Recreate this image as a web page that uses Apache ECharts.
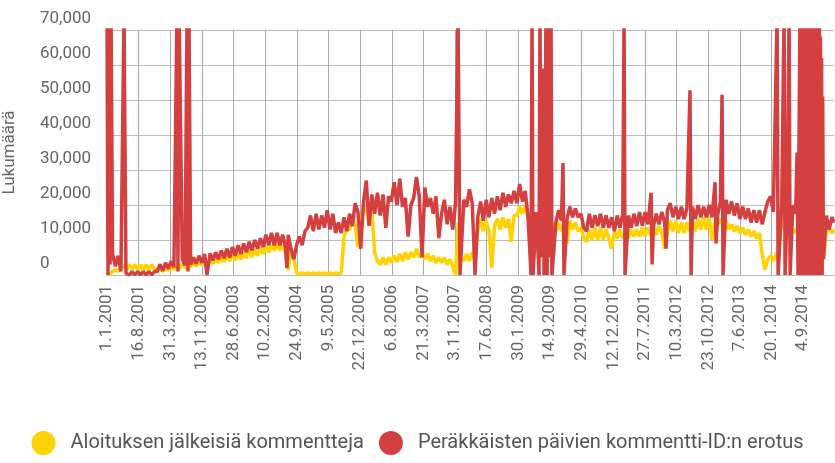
<!DOCTYPE html>
<html>
<head>
<meta charset="utf-8">
<script src="https://cdn.jsdelivr.net/npm/echarts@6/dist/echarts.min.js"></script>
<style>
  html, body { margin: 0; padding: 0; background: #fff; }
  #chart { width: 835px; height: 463px; }
</style>
</head>
<body>
<div id="chart"></div>
<script>
// päivittäinen kategoria-akseli 1.1.2001 alkaen
var dayCount = 5216;
var categories = [];
for (var i = 0; i < dayCount; i++) {
  var d = new Date(Date.UTC(2001, 0, 1 + i));
  categories.push(d.getUTCDate() + '.' + (d.getUTCMonth() + 1) + '.' + d.getUTCFullYear());
}

var yTicks = [0, 10000, 20000, 30000, 40000, 50000, 60000, 70000];

// arvot luettu 20 päivän välein (indeksi = k * 20), vuorotellen vaihtelun ylä- ja alareuna
var baseStep = 20;

var aloitusBase = [
  0, 500, 1000, 1500, 1000, 2000, 2800, 1500, 3000, 1600,
  3000, 1500, 3000, 1500, 2900, 1500, 3000, 1600, 1500, 1800,
  1000, 2500, 1200, 2800, 1500, 3000, 1800, 3200, 2000, 3500,
  2200, 3800, 2500, 4000, 2800, 4200, 3000, 4500, 3200, 4800,
  3500, 5000, 3800, 5500, 4000, 5800, 4200, 6000, 4500, 6500,
  4800, 6800, 5200, 7200, 5500, 7800, 6000, 8200, 6500, 8500,
  7000, 9000, 7000, 8500, 6500, 1500, 7500, 5000, 500, 400,
  600, 300, 600, 300, 600, 300, 600, 300, 600, 300,
  600, 300, 600, 300, 600, 11000, 13000, 13000, 16500, 14500,
  8000, 15500, 18000, 19500, 14500, 18500, 6500, 4000, 3000, 5000,
  3000, 5000, 3500, 5500, 3800, 6000, 4000, 6500, 4500, 6500,
  5000, 7500, 5000, 6500, 4500, 6000, 4000, 5500, 3500, 5000,
  3500, 5000, 3000, 4500, 2500, 0, 15000, 5000, 4000, 6000,
  4000, 6500, 4500, 13000, 16000, 12500, 15500, 12500, 2000, 14000,
  16000, 13000, 16500, 13500, 16000, 9500, 17000, 17000, 19500, 17500,
  20000, 16500, 14500, 12000, 13000, 11500, 13500, 11000, 13500, 11000,
  14500, 12500, 15000, 12500, 15000, 9000, 15500, 13000, 15000, 12500,
  13500, 10500, 9500, 13000, 10000, 13500, 10000, 13500, 10000, 13000,
  10500, 7500, 12500, 10500, 13000, 10500, 12500, 10500, 13000, 11000,
  13000, 11000, 13500, 11000, 13500, 11500, 14000, 11500, 14000, 12000,
  7500, 12000, 15500, 12500, 15500, 12000, 15000, 12000, 15000, 12500,
  15500, 12500, 16000, 13000, 16500, 13000, 16500, 10000, 15000, 14000,
  16000, 13500, 15500, 13000, 14500, 12500, 14000, 12000, 13500, 11500,
  13000, 11000, 12500, 10500, 12000, 6000, 1500, 4500, 5500, 4000,
  6000, 6500, 16500, 13000, 14000, 11500, 13000, 12000, 14500, 13000,
  16000, 15000, 18500, 16500, 20000, 16500, 19500, 4500, 12500, 13500,
  12000
];
var aloitusExtra = [[5215, 13000]];

var erotusBase = [
  5000, 2500, 6000, 2500, 5500, 1000, 0, 1000, 0, 1000,
  0, 1000, 0, 1000, 0, 1000, 0, 1000, 1000, 3000,
  1200, 3500, 1800, 4000, 2200, 4200, 2500, 4500, 2800, 4800,
  3000, 5000, 3200, 5500, 3500, 6000, 3800, 6200, 4200, 6500,
  4500, 7000, 4800, 7500, 5000, 8000, 5500, 8500, 6000, 9000,
  6500, 9500, 7000, 10000, 7500, 10500, 8000, 11500, 8500, 12000,
  8500, 12000, 8500, 11500, 8000, 11500, 7500, 4500, 8500, 11000,
  8500, 12500, 13500, 17000, 12500, 17500, 13000, 17000, 13500, 18500,
  13000, 17500, 12000, 15000, 12000, 16500, 12500, 17500, 14000, 20500,
  18000, 7500, 21000, 27000, 14000, 23000, 17500, 23500, 17000, 23000,
  13500, 22500, 21000, 26500, 20000, 27500, 19500, 22000, 11000, 20000,
  22000, 28000, 22500, 5000, 25000, 19500, 22000, 17500, 22500, 10500,
  17500, 21500, 14500, 19500, 13000, 20500, 19000, 15000, 21500, 19500,
  24500, 20500, 25000, 16500, 21000, 15500, 21500, 16500, 22000, 17500,
  22500, 18500, 23500, 19500, 23000, 20500, 24000, 20500, 26000, 21000,
  24000, 16500, 18000, 11500, 18000, 12500, 19000, 14000, 18500, 13000,
  17500, 15000, 18500, 15500, 19000, 16000, 19500, 16500, 19000, 16500,
  17500, 13500, 12500, 17500, 13500, 17000, 14000, 17500, 13500, 17000,
  13500, 16500, 12500, 17000, 13500, 17500, 13500, 17000, 13500, 17500,
  14000, 18000, 14000, 18000, 14500, 18000, 14000, 17500, 14500, 18000,
  15000, 18500, 20500, 16500, 19500, 16000, 19500, 16000, 19000, 16000,
  19500, 16000, 20000, 16500, 19500, 16500, 20000, 16500, 20500, 17000,
  21000, 17500, 21500, 17500, 21000, 17000, 20500, 16000, 19500, 16000,
  19000, 15000, 18500, 15000, 18500, 14500, 18000, 21000, 22500, 18000,
  20000, 17500, 20000, 17000, 19500, 17500, 20000, 17500, 19500, 17500,
  19000, 17500, 19000, 17500, 19000, 17500, 19000, 4500, 17000, 13000,
  16500
];

// piikit: [päiväindeksi, arvo]
var erotusSpikes = [
  [0, 75000], [7, 0], [14, 75000], [22, 3000], [29, 75000],
  [122, 75000], [129, 75000], [136, 500],
  [502, 75000], [509, 1000], [517, 75000],
  [574, 75000], [581, 1000], [588, 75000],
  [717, 0], [1291, 2000],
  [2518, 75000], [2525, 75000], [2532, 0], [2640, 0],
  [3042, 0], [3049, 75000], [3056, 0], [3099, 0], [3106, 75000], [3114, 5000], [3128, 59000],
  [3135, 0], [3149, 75000], [3157, 0], [3164, 75000], [3171, 5000], [3185, 75000], [3192, 0],
  [3271, 32000], [3278, 0],
  [3709, 75000], [3716, 0],
  [3903, 23500], [3910, 3000], [4010, 7500],
  [4182, 52800], [4190, 0],
  [4362, 26500], [4369, 9000],
  [4412, 51500], [4419, 0],
  [4807, 75000], [4814, 0], [4857, 75000], [4864, 0], [4893, 75000], [4900, 0],
  [4950, 35000], [4957, 0],
  [4971, 75000], [4975, 0], [4980, 75000], [4985, 0], [4990, 75000], [4995, 0], [5000, 75000],
  [5005, 0], [5010, 75000], [5015, 0], [5020, 75000], [5025, 0], [5030, 75000], [5035, 0],
  [5040, 75000], [5045, 0], [5050, 75000], [5055, 0], [5060, 75000], [5065, 0], [5070, 75000],
  [5075, 0], [5080, 75000], [5085, 0], [5090, 75000], [5095, 0], [5100, 75000], [5105, 0],
  [5110, 75000], [5115, 0], [5118, 68000], [5122, 0], [5126, 62000], [5130, 0], [5134, 51000],
  [5139, 4500],
  [5215, 15000]
];

// yhdistetään perusarvot ja piikit; piikin lähellä olevat perusarvot jätetään pois
function buildSeries(base, extra) {
  var pts = [];
  base.forEach(function (v, k) {
    var idx = k * baseStep;
    var near = extra.some(function (p) { return Math.abs(p[0] - idx) <= 8; });
    if (!near) pts.push([idx, v]);
  });
  pts = pts.concat(extra);
  pts.sort(function (a, b) { return a[0] - b[0]; });
  return pts;
}

var colors = { aloitus: '#ffd200', erotus: '#d43f3f' };
var textColor = '#666';

var chart = echarts.init(document.getElementById('chart'));
chart.setOption({
  animation: false,
  textStyle: { fontFamily: 'Roboto' },
  grid: { left: 107, right: 1, top: 30, bottom: 188, containLabel: false, outerBoundsMode: 'none' },
  legend: {
    bottom: 3,
    left: 'center',
    icon: 'circle',
    itemWidth: 24,
    itemHeight: 24,
    itemGap: 15,
    textStyle: { fontSize: 20, color: '#555', fontFamily: 'Roboto', padding: [0, 0, 0, 10] },
    data: ['Aloituksen jälkeisiä kommentteja', 'Peräkkäisten päivien kommentti-ID:n erotus']
  },
  xAxis: {
    type: 'category',
    data: categories,
    boundaryGap: false,
    axisTick: { show: false },
    axisLine: { lineStyle: { color: '#bbb' } },
    axisLabel: { interval: 226, rotate: 90, fontSize: 17, color: textColor, margin: 10 },
    splitLine: { show: true, interval: 226, lineStyle: { color: '#a8a8a8' } }
  },
  yAxis: {
    type: 'value',
    min: yTicks[0],
    max: yTicks[yTicks.length - 1],
    interval: 10000,
    name: 'Lukumäärä',
    nameLocation: 'middle',
    nameGap: 89,
    nameTextStyle: { fontSize: 17, color: textColor },
    axisLine: { show: false },
    axisTick: { show: false },
    axisLabel: {
      align: 'left',
      verticalAlign: 'bottom',
      margin: 67,
      padding: [0, 0, 3, 0],
      fontSize: 17,
      color: textColor,
      formatter: function (v) { return v.toLocaleString('en-US'); }
    },
    splitLine: { lineStyle: { color: '#bdbdbd' } }
  },
  series: [
    {
      name: 'Aloituksen jälkeisiä kommentteja',
      type: 'line',
      data: buildSeries(aloitusBase, aloitusExtra),
      showSymbol: false,
      itemStyle: { color: colors.aloitus },
      lineStyle: { color: colors.aloitus, width: 3.5 }
    },
    {
      name: 'Peräkkäisten päivien kommentti-ID:n erotus',
      type: 'line',
      data: buildSeries(erotusBase, erotusSpikes),
      showSymbol: false,
      itemStyle: { color: colors.erotus },
      lineStyle: { color: colors.erotus, width: 3.5 }
    }
  ]
});
</script>
</body>
</html>
